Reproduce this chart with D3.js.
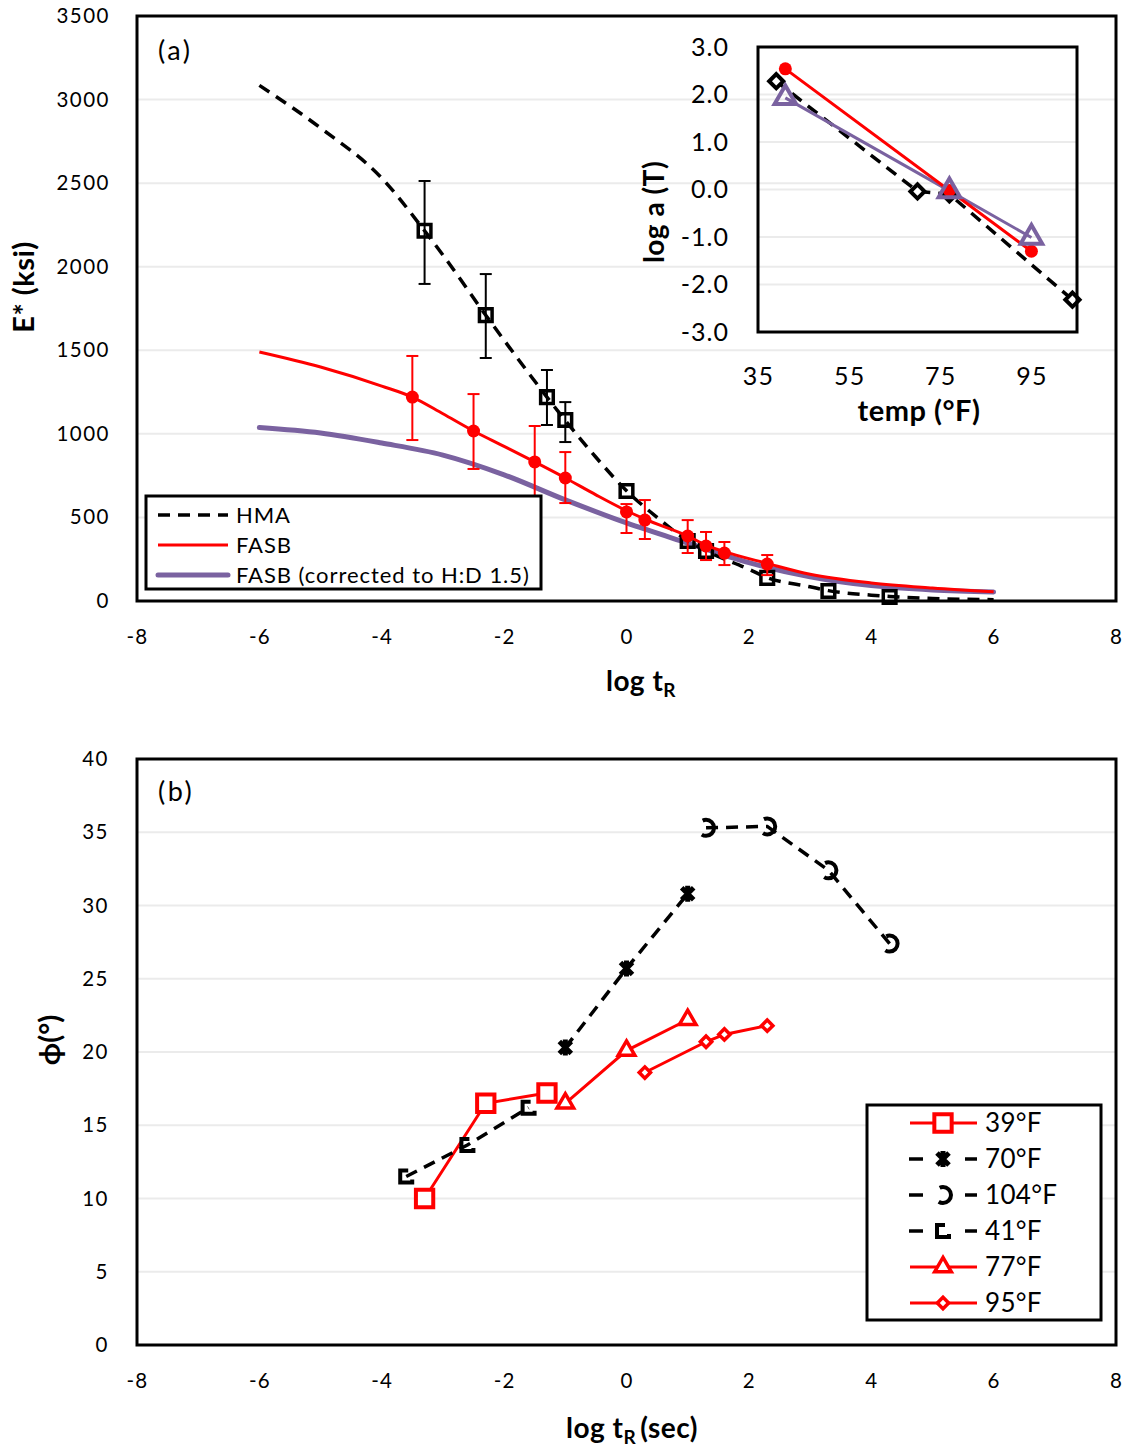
<!DOCTYPE html>
<html><head><meta charset="utf-8">
<script src="https://cdn.jsdelivr.net/npm/d3@7"></script>
<style>
body{margin:0;background:#fff}
svg text{font-family:Lato,'Open Sans',sans-serif;fill:#000}
</style>
</head><body>
<svg id="c" width="1127" height="1450"></svg>
<script>
// ---------------- DATA ----------------
// Panel (a): dynamic modulus master curves
const hmaCurveX = [-6,-5,-4,-3.3,-3,-2.3,-2,-1.3,-1,-0.5,0,0.5,1,1.3,2,2.3,3,3.3,4,4.3,5,6];
const hmaCurveY = [3085,2830,2530,2215,2070,1710,1560,1220,1080,860,660,500,360,300,190,140,85,62,35,27,15,8];
const hmaPtX = [-3.3,-2.3,-1.3,-1.0,0,1.0,1.3,2.3,3.3,4.3];
const hmaPtY = [2215,1710,1220,1083,658,359,299,138,60,24];
const hmaErrLo = [1897,1454,1053,951,null,null,null,null,null,null];
const hmaErrHi = [2513,1956,1382,1190,null,null,null,null,null,null];

const fasbCurveX = [-6,-5,-4,-3.5,-3,-2.5,-2,-1.5,-1,-0.5,0,0.3,1,1.3,1.6,2.3,3,4,5,6];
const fasbCurveY = [1490,1400,1286,1220,1120,1017,925,832,736,635,540,490,389,335,295,225,160,108,78,55];
const fasbPtX = [-3.5,-2.5,-1.5,-1.0,0,0.3,1.0,1.3,1.6,2.3];
const fasbPtY = [1220,1017,832,736,533,484,389,329,287,221];
const fasbErrLo = [963,790,604,586,407,371,287,245,215,155];
const fasbErrHi = [1466,1238,1047,891,580,604,484,413,353,275];

const corrCurveX = [-6,-5,-4,-3,-2,-1,0,1,2,3,4,5,6];
const corrCurveY = [1038,1005,945,873,755,605,467,347,230,145,92,66,54];

const legendA = ["HMA","FASB","FASB (corrected to H:D 1.5)"];

// Inset: shift factors
const insHmaT = [39,70,77,104];
const insHmaLog = [2.28,-0.04,-0.1,-2.32];
const insFasbT = [41,77,95];
const insFasbLog = [2.54,-0.02,-1.30];
const insCorrT = [41,77,95];
const insCorrLog = [1.93,-0.03,-1.01];

// Panel (b): phase angle
const s39X = [-3.3,-2.3,-1.3],      s39Y = [10.0,16.5,17.2];
const s70X = [-1.0,0,1.0],          s70Y = [20.3,25.7,30.8];
const s104X = [1.3,2.3,3.3,4.3],    s104Y = [35.3,35.4,32.4,27.4];
const s41X = [-3.6,-2.6,-1.6],      s41Y = [11.5,13.65,16.2];
const s77X = [-1.0,0,1.0],          s77Y = [16.5,20.1,22.2];
const s95X = [0.3,1.3,1.6,2.3],     s95Y = [18.6,20.7,21.2,21.8];
const legendB = ["39°F","70°F","104°F","41°F","77°F","95°F"];

// Tick labels
const xTicks = [-8,-6,-4,-2,0,2,4,6,8];
const yTicksA = [0,500,1000,1500,2000,2500,3000,3500];
const yTicksB = [0,5,10,15,20,25,30,35,40];
const insYTicks = [-3,-2,-1,0,1,2,3];
const insXTicks = [35,55,75,95];

// ---------------- STYLE ----------------
const RED = "#FF0000", PURPLE = "#7A62A0", GRID = "#EBEBEB";
const DASH = "12 8";
const svg = d3.select("#c");
const zip = (a,b) => a.map((v,i)=>[v,b[i]]);

// ---------------- PANEL A ----------------
const xA = d3.scaleLinear([-8,8],[137,1116]);
const yA = d3.scaleLinear([0,3500],[601,16]);
const gA = svg.append("g");

gA.selectAll("line.grid").data(yTicksA.slice(1,-1)).join("line")
  .attr("x1",xA(-8)).attr("x2",xA(8)).attr("y1",d=>yA(d)).attr("y2",d=>yA(d))
  .attr("stroke",GRID).attr("stroke-width",2);

function styleAxis(g, size, ls){
  g.select(".domain").remove();
  g.selectAll("text").style("font-size",size+"px").style("letter-spacing",ls+"px").attr("fill","#000");
}
const axYA = gA.append("g").attr("transform",`translate(${xA(-8)},0)`)
  .call(d3.axisLeft(yA).tickValues(yTicksA).tickSize(0).tickPadding(27).tickFormat(d=>String(d)));
styleAxis(axYA,20.5,1.5);
const axXA = gA.append("g").attr("transform",`translate(0,${yA(0)})`)
  .call(d3.axisBottom(xA).tickValues(xTicks).tickSize(0).tickFormat(d=>String(d)));
styleAxis(axXA,20.5,1.2);
axXA.selectAll("text").attr("y",36).attr("dy","0.35em");

const line = (xs,ys,x,y,curve)=>d3.line().x(d=>x(d[0])).y(d=>y(d[1])).curve(curve||d3.curveLinear)(zip(xs,ys));

// purple corrected
gA.append("path").attr("d",line(corrCurveX,corrCurveY,xA,yA,d3.curveMonotoneX))
  .attr("fill","none").attr("stroke",PURPLE).attr("stroke-width",5).attr("stroke-linecap","round");
// HMA dashed
gA.append("path").attr("d",line(hmaCurveX,hmaCurveY,xA,yA,d3.curveMonotoneX))
  .attr("fill","none").attr("stroke","#000").attr("stroke-width",3.5).attr("stroke-dasharray",DASH);
// error bars
function errBars(g, xs, ys, lo, hi, x, y, color){
  xs.forEach((xv,i)=>{
    if(lo[i]==null) return;
    const px = x(xv);
    g.append("line").attr("x1",px).attr("x2",px).attr("y1",y(lo[i])).attr("y2",y(hi[i])).attr("stroke",color).attr("stroke-width",2);
    [lo[i],hi[i]].forEach(v=>g.append("line").attr("x1",px-6).attr("x2",px+6).attr("y1",y(v)).attr("y2",y(v)).attr("stroke",color).attr("stroke-width",2));
  });
}
errBars(gA,hmaPtX,hmaPtY,hmaErrLo,hmaErrHi,xA,yA,"#000");
gA.selectAll("path.hsq").data(zip(hmaPtX,hmaPtY)).join("path")
  .attr("d",d3.symbol(d3.symbolSquare,160)())
  .attr("transform",d=>`translate(${xA(d[0])},${yA(d[1])})`)
  .attr("fill","none").attr("stroke","#000").attr("stroke-width",3.5);
// FASB
gA.append("path").attr("d",line(fasbCurveX,fasbCurveY,xA,yA,d3.curveMonotoneX))
  .attr("fill","none").attr("stroke",RED).attr("stroke-width",3);
errBars(gA,fasbPtX,fasbPtY,fasbErrLo,fasbErrHi,xA,yA,RED);
gA.selectAll("circle.fp").data(zip(fasbPtX,fasbPtY)).join("circle")
  .attr("cx",d=>xA(d[0])).attr("cy",d=>yA(d[1])).attr("r",6.5).attr("fill",RED);

// border
gA.append("rect").attr("x",xA(-8)).attr("y",yA(3500)).attr("width",xA(8)-xA(-8)).attr("height",yA(0)-yA(3500))
  .attr("fill","none").attr("stroke","#000").attr("stroke-width",3);

gA.append("text").attr("x",158).attr("y",60).style("font-size","27px").style("letter-spacing","2.5px").text("(a)");

// legend A
const lgA = gA.append("g");
lgA.append("rect").attr("x",146).attr("y",496).attr("width",395).attr("height",93).attr("fill","#fff").attr("stroke","#000").attr("stroke-width",3);
const lgStyles = [{c:"#000",w:3.5,da:DASH},{c:RED,w:3,da:null},{c:PURPLE,w:5,da:null}];
legendA.forEach((t,i)=>{
  const yy = 515 + i*30;
  const s = lgStyles[i];
  lgA.append("line").attr("x1",158).attr("x2",228).attr("y1",yy).attr("y2",yy)
    .attr("stroke",s.c).attr("stroke-width",s.w).attr("stroke-dasharray",s.da).attr("stroke-linecap",i==2?"round":"butt");
  lgA.append("text").attr("x",236).attr("y",yy).attr("dy","0.35em").style("font-size","22px").style("letter-spacing","0.95px").text(t);
});

// axis titles A
const tA = gA.append("text").attr("x",641).attr("y",691).attr("text-anchor","middle").style("font-size","28px").style("font-weight","bold").style("letter-spacing","0.5px");
tA.append("tspan").text("log t");
tA.append("tspan").attr("dy",6).style("font-size","19px").text("R");
gA.append("text").attr("transform","translate(34,287) rotate(-90)").attr("text-anchor","middle")
  .style("font-size","29px").style("font-weight","bold").style("letter-spacing","0.5px").text("E* (ksi)");

// ---------------- INSET ----------------
const xI = d3.scaleLinear([35,105],[758,1077]);
const yI = d3.scaleLinear([-3,3],[332,47]);
const gI = svg.append("g");
gI.selectAll("line.g").data(insYTicks.slice(1,-1)).join("line")
  .attr("x1",xI(35)).attr("x2",xI(105)).attr("y1",d=>yI(d)).attr("y2",d=>yI(d))
  .attr("stroke",GRID).attr("stroke-width",2);
const axYI = gI.append("g").attr("transform",`translate(${xI(35)},0)`)
  .call(d3.axisLeft(yI).tickValues(insYTicks).tickSize(0).tickPadding(29).tickFormat(d=>d.toFixed(1)));
styleAxis(axYI,25,1);
const axXI = gI.append("g").attr("transform",`translate(0,${yI(-3)})`)
  .call(d3.axisBottom(xI).tickValues(insXTicks).tickSize(0).tickFormat(d=>String(d)));
styleAxis(axXI,25,1.2);
axXI.selectAll("text").attr("y",44).attr("dy","0.35em");

gI.append("path").attr("d",line(insHmaT,insHmaLog,xI,yI)).attr("fill","none").attr("stroke","#000").attr("stroke-width",3.5).attr("stroke-dasharray",DASH);
gI.append("path").attr("d",line(insCorrT,insCorrLog,xI,yI)).attr("fill","none").attr("stroke",PURPLE).attr("stroke-width",3);
gI.append("path").attr("d",line(insFasbT,insFasbLog,xI,yI)).attr("fill","none").attr("stroke",RED).attr("stroke-width",3);
gI.selectAll("path.dm").data(zip(insHmaT,insHmaLog)).join("path")
  .attr("d",d3.symbol(d3.symbolSquare,100)())
  .attr("transform",d=>`translate(${xI(d[0])},${yI(d[1])}) rotate(45)`)
  .attr("fill","#fff").attr("stroke","#000").attr("stroke-width",4);
gI.selectAll("circle.fc").data(zip(insFasbT,insFasbLog)).join("circle")
  .attr("cx",d=>xI(d[0])).attr("cy",d=>yI(d[1])).attr("r",6.5).attr("fill",RED);
gI.selectAll("path.tr").data(zip(insCorrT,insCorrLog)).join("path")
  .attr("d",d3.symbol(d3.symbolTriangle,200)())
  .attr("transform",d=>`translate(${xI(d[0])},${yI(d[1])})`)
  .attr("fill","none").attr("stroke",PURPLE).attr("stroke-width",4);

gI.append("rect").attr("x",xI(35)).attr("y",yI(3)).attr("width",xI(105)-xI(35)).attr("height",yI(-3)-yI(3))
  .attr("fill","none").attr("stroke","#000").attr("stroke-width",3);
gI.append("text").attr("x",919).attr("y",421).attr("text-anchor","middle").style("font-size","29px").style("font-weight","bold").style("letter-spacing","0.5px").text("temp (°F)");
gI.append("text").attr("transform","translate(664,212) rotate(-90)").attr("text-anchor","middle")
  .style("font-size","28px").style("font-weight","bold").style("letter-spacing","0.5px").text("log a (T)");

// ---------------- PANEL B ----------------
const xB = d3.scaleLinear([-8,8],[137,1116]);
const yB = d3.scaleLinear([0,40],[1345,759]);
const gB = svg.append("g");
gB.selectAll("line.grid").data(yTicksB.slice(1,-1)).join("line")
  .attr("x1",xB(-8)).attr("x2",xB(8)).attr("y1",d=>yB(d)).attr("y2",d=>yB(d))
  .attr("stroke",GRID).attr("stroke-width",2);
const axYB = gB.append("g").attr("transform",`translate(${xB(-8)},0)`)
  .call(d3.axisLeft(yB).tickValues(yTicksB).tickSize(0).tickPadding(28).tickFormat(d=>String(d)));
styleAxis(axYB,20.5,1.5);
const axXB = gB.append("g").attr("transform",`translate(0,${yB(0)})`)
  .call(d3.axisBottom(xB).tickValues(xTicks).tickSize(0).tickFormat(d=>String(d)));
styleAxis(axXB,20.5,1.2);
axXB.selectAll("text").attr("y",36).attr("dy","0.35em");

// marker makers
const mk = {
  sq39: g=>g.append("path").attr("d",d3.symbol(d3.symbolSquare,300)()).attr("fill","#fff").attr("stroke",RED).attr("stroke-width",4),
  tri: g=>g.append("path").attr("d",d3.symbol(d3.symbolTriangle,120)()).attr("fill","#fff").attr("stroke",RED).attr("stroke-width",3.5),
  dia: g=>g.append("path").attr("d",d3.symbol(d3.symbolSquare,64)()).attr("transform","rotate(45)").attr("fill","#fff").attr("stroke",RED).attr("stroke-width",3.5),
  star: g=>g.append("path").attr("d","M-6,-6L6,6M6,-6L-6,6M0,-8V8").attr("fill","none").attr("stroke","#000").attr("stroke-width",5),
  circ: g=>g.append("circle").attr("r",8).attr("fill","none").attr("stroke","#000").attr("stroke-width",4).attr("stroke-dasharray","17 17"),
  brk: g=>g.append("path").attr("d","M2,-6H-6V6H6V3").attr("fill","none").attr("stroke","#000").attr("stroke-width",4)
};
const seriesB = [
  {x:s39X,y:s39Y,c:RED,da:null,m:"sq39"},
  {x:s70X,y:s70Y,c:"#000",da:DASH,m:"star"},
  {x:s104X,y:s104Y,c:"#000",da:DASH,m:"circ"},
  {x:s41X,y:s41Y,c:"#000",da:DASH,m:"brk"},
  {x:s77X,y:s77Y,c:RED,da:null,m:"tri"},
  {x:s95X,y:s95Y,c:RED,da:null,m:"dia"}
];
seriesB.forEach(s=>{
  gB.append("path").attr("d",line(s.x,s.y,xB,yB)).attr("fill","none").attr("stroke",s.c).attr("stroke-width",s.c==RED?3:3.5).attr("stroke-dasharray",s.da);
});
seriesB.forEach(s=>{
  zip(s.x,s.y).forEach(d=>{
    const g = gB.append("g").attr("transform",`translate(${xB(d[0])},${yB(d[1])})`);
    mk[s.m](g);
  });
});
gB.append("rect").attr("x",xB(-8)).attr("y",yB(40)).attr("width",xB(8)-xB(-8)).attr("height",yB(0)-yB(40))
  .attr("fill","none").attr("stroke","#000").attr("stroke-width",3);
gB.append("text").attr("x",158).attr("y",801).style("font-size","27px").style("letter-spacing","2.5px").text("(b)");

// legend B
const lgB = gB.append("g");
lgB.append("rect").attr("x",867).attr("y",1105).attr("width",234).attr("height",215).attr("fill","#fff").attr("stroke","#000").attr("stroke-width",3);
seriesB.forEach((s,i)=>{
  const yy = 1123 + i*36;
  if(s.c==RED){
    lgB.append("line").attr("x1",910).attr("x2",977).attr("y1",yy).attr("y2",yy).attr("stroke",s.c).attr("stroke-width",3);
  } else {
    [[909,923],[965,977]].forEach(([a,b])=>lgB.append("line").attr("x1",a).attr("x2",b).attr("y1",yy).attr("y2",yy).attr("stroke","#000").attr("stroke-width",3.5));
  }
  const g = lgB.append("g").attr("transform",`translate(943,${yy})`);
  mk[s.m](g);
  lgB.append("text").attr("x",985).attr("y",yy).attr("dy","0.36em").style("font-size","26px").style("letter-spacing","0.3px").text(legendB[i]);
});

const tB = gB.append("text").attr("x",632).attr("y",1438).attr("text-anchor","middle").style("font-size","28px").style("font-weight","bold").style("letter-spacing","0.5px");
tB.append("tspan").text("log t");
tB.append("tspan").attr("dy",6).style("font-size","19px").text("R");
tB.append("tspan").attr("dy",-6).attr("dx",4).text("(sec)");
gB.append("text").attr("transform","translate(60,1040) rotate(-90)").attr("text-anchor","middle")
  .style("font-size","29px").style("font-weight","bold").text("ϕ(°)");
</script>
</body></html>
